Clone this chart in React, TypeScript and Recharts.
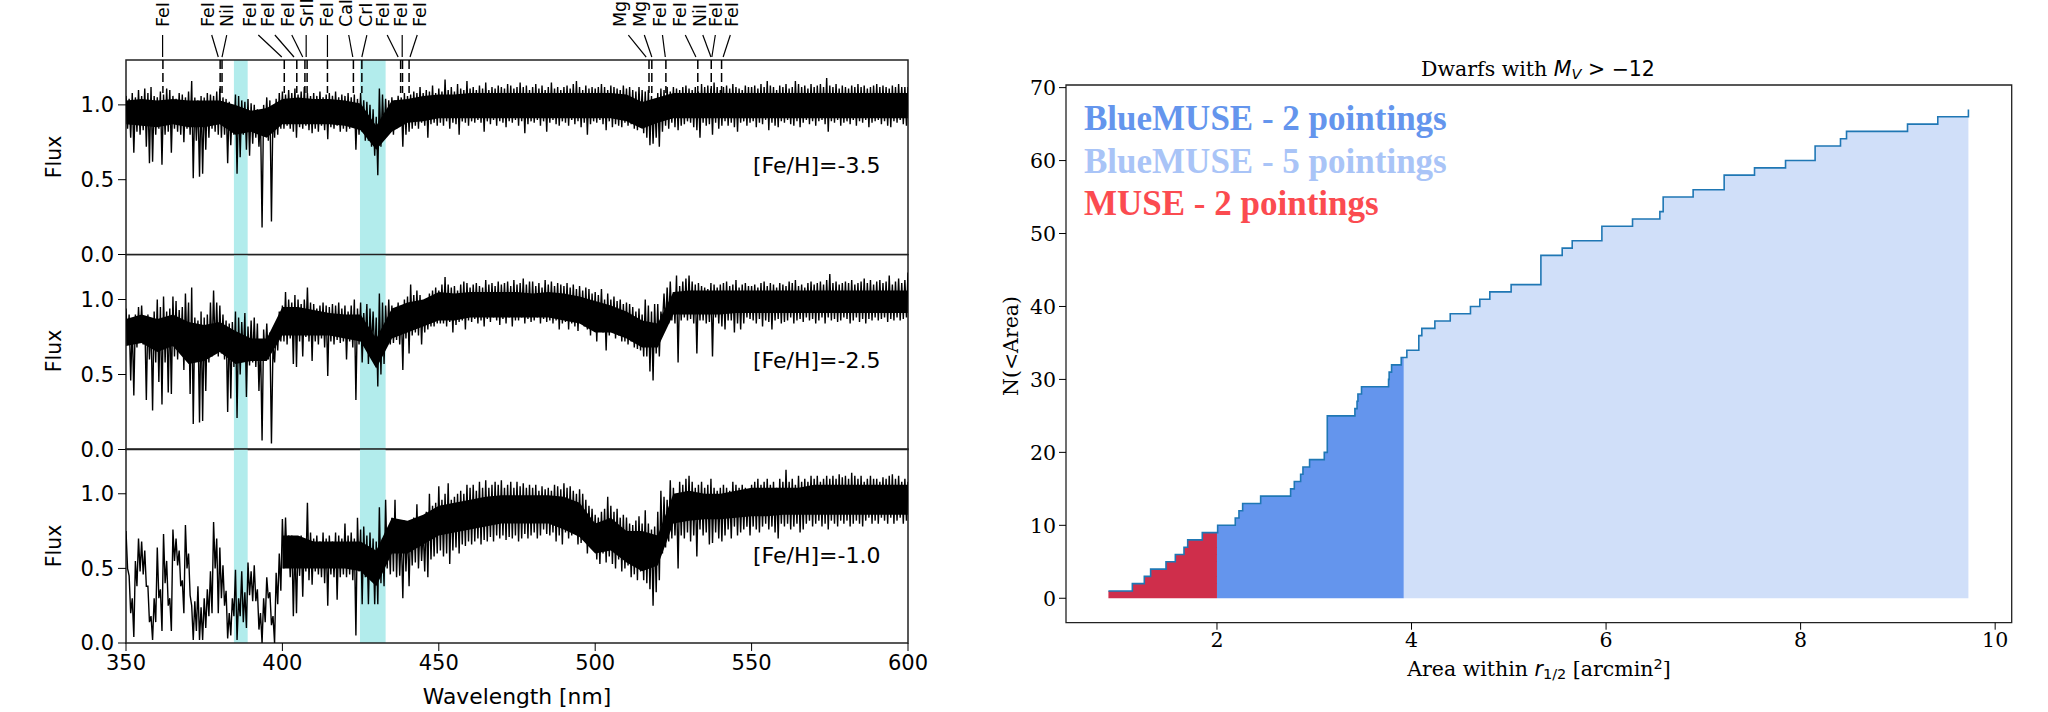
import {
  Area,
  ComposedChart,
  Line,
  ReferenceArea,
  ReferenceDot,
  ReferenceLine,
  XAxis,
  YAxis,
} from 'recharts';

// flux x 100, one value per nm from 350 to 600
const S1_HI = [
  106,104,108,105,110,106,111,108,112,106,
  105,109,107,111,110,106,104,108,107,105,
  109,116,105,103,106,105,108,107,106,109,
  111,105,104,102,99,107,106,103,102,104,
  101,100,97,92,100,105,103,99,104,108,
  109,107,110,108,111,107,109,112,108,106,
  108,106,109,105,107,108,106,109,105,107,
  106,108,105,107,104,108,103,102,100,97,
  92,111,107,104,103,105,103,106,105,108,
  106,107,109,108,112,108,110,109,113,108,
  111,109,117,110,112,109,114,111,110,116,
  111,112,110,113,111,115,110,112,111,113,
  112,111,114,113,111,112,115,112,113,110,
  112,114,111,113,110,112,115,111,112,110,
  112,113,111,114,116,112,110,113,111,112,
  111,112,114,112,110,113,112,111,110,113,
  111,112,110,109,112,110,109,110,106,104,
  108,111,110,112,109,112,111,110,112,113,
  111,110,112,109,114,112,113,111,115,112,
  110,112,113,111,114,112,111,110,113,112,
  112,113,111,114,112,116,113,112,110,113,
  112,114,111,112,116,114,112,113,111,114,
  112,113,114,112,118,113,112,114,111,113,
  112,111,113,112,114,112,113,111,112,113,
  114,112,113,112,111,113,112,114,112,112,
  112,
];
const S1_LO = [
  84,78,68,82,80,83,72,61,62,80,
  84,60,80,82,68,84,82,80,75,84,
  80,51,76,52,54,70,78,84,82,80,
  78,80,61,73,80,54,65,80,70,66,
  74,78,72,18,82,76,22,78,80,84,
  84,86,84,82,78,85,84,86,83,81,
  84,82,86,83,77,85,84,86,82,84,
  82,84,86,70,80,82,76,76,72,66,
  53,72,80,80,82,80,84,86,72,80,
  82,84,86,84,88,86,78,87,88,86,
  88,86,89,84,88,87,80,89,88,86,
  89,88,90,88,82,89,87,90,86,89,
  88,85,89,88,90,86,89,81,87,89,
  88,90,86,89,82,88,90,87,86,89,
  88,86,90,87,89,85,88,80,87,89,
  88,90,87,83,89,85,87,86,85,88,
  86,87,84,83,85,81,78,73,74,78,
  72,82,86,84,88,85,83,86,87,89,
  88,85,83,78,88,86,87,80,88,84,
  86,89,86,88,85,82,88,89,86,88,
  89,85,88,87,90,83,88,86,85,89,
  88,90,87,86,89,85,88,90,87,89,
  86,89,90,87,82,89,88,90,86,88,
  89,87,90,86,89,88,90,85,88,89,
  90,87,89,86,85,89,88,90,87,86,
  86,
];
const S2_HI = [
  94,90,84,90,95,96,88,90,85,92,
  100,95,102,92,94,102,99,93,95,104,
  98,108,88,86,92,88,90,98,106,98,
  96,90,86,84,85,92,88,85,91,82,
  86,88,84,72,80,84,78,70,80,92,
  96,105,100,98,103,100,97,100,108,98,
  97,94,96,98,96,95,97,96,98,94,
  96,92,96,100,94,98,91,97,94,92,
  88,104,98,96,100,96,94,98,94,100,
  102,110,103,106,103,98,100,104,106,108,
  106,110,115,110,108,109,106,110,112,111,
  108,110,111,109,108,113,110,111,109,112,
  110,111,112,109,113,110,111,114,110,112,
  112,109,111,108,113,110,112,109,111,110,
  109,111,108,110,107,109,106,108,107,104,
  105,103,107,100,104,100,102,99,100,97,
  98,97,95,92,94,90,100,96,92,97,
  97,92,104,108,112,105,116,109,112,114,
  116,112,110,111,109,108,107,111,110,108,
  110,111,112,109,110,113,108,110,111,109,
  109,110,108,111,112,109,111,110,108,111,
  110,109,112,111,113,109,110,108,111,112,
  110,111,112,110,113,117,111,112,110,111,
  112,111,113,110,111,112,114,111,113,110,
  112,113,111,112,116,110,112,114,111,113,
  118,
];
const S2_LO = [
  70,46,36,68,72,70,33,60,26,58,
  45,30,58,38,37,62,60,64,53,66,
  37,17,60,18,19,39,58,62,66,62,
  64,60,25,34,55,21,50,60,35,56,
  58,55,39,6,60,60,4,58,66,72,
  72,70,74,57,55,72,62,75,72,59,
  72,70,74,68,49,72,70,73,71,72,
  60,72,68,33,70,58,72,57,68,62,
  42,50,57,72,70,71,73,70,53,74,
  64,76,78,76,70,78,80,82,82,84,
  84,84,82,85,78,83,85,86,80,86,
  85,87,84,86,82,87,85,88,86,83,
  87,84,88,82,86,86,88,84,87,85,
  86,88,84,87,85,86,84,86,80,84,
  85,80,84,82,79,84,82,80,76,80,
  72,80,78,66,76,78,74,76,72,72,
  70,72,68,67,66,62,62,52,46,64,
  62,84,82,84,86,84,58,86,88,86,
  87,84,64,86,86,84,85,62,88,84,
  82,80,86,86,78,84,80,84,88,87,
  86,84,87,82,86,85,80,86,87,84,
  85,86,88,84,86,87,85,88,86,87,
  84,86,88,84,88,86,87,85,86,88,
  87,84,86,88,85,87,84,87,86,88,
  86,87,88,85,87,86,88,86,87,88,
  88,
];
const S3_HI = [
  75,45,30,55,70,68,62,38,18,30,
  64,36,73,55,30,76,70,62,42,79,
  60,25,28,38,24,30,36,48,81,70,
  64,52,35,20,30,49,30,48,34,54,
  48,52,36,20,30,44,34,18,47,60,
  83,84,72,72,68,70,72,70,94,74,
  70,72,68,74,70,72,68,74,72,70,
  80,72,74,70,84,76,78,72,74,70,
  68,91,70,96,78,84,96,80,74,82,
  76,80,84,93,80,76,88,100,92,94,
  105,96,100,107,96,98,100,102,100,106,
  104,106,102,108,104,109,104,106,108,106,
  109,104,106,108,104,108,105,107,104,106,
  104,106,102,105,103,104,102,106,105,103,
  107,104,105,102,100,103,100,96,92,90,
  86,84,88,90,98,92,88,90,84,86,
  84,80,79,82,85,80,89,80,76,78,
  88,102,98,96,109,104,100,108,106,110,
  112,108,104,106,108,104,106,110,104,102,
  104,106,104,102,108,106,104,106,104,102,
  106,108,110,106,108,110,106,108,104,110,
  108,116,108,110,106,112,108,110,108,112,
  110,112,108,110,112,110,112,110,113,111,
  112,110,114,112,110,112,108,110,112,110,
  110,108,111,110,112,113,110,112,108,110,
  108,
];
const S3_LO = [
  50,20,4,38,48,46,38,14,2,14,
  30,8,40,25,8,55,52,38,20,50,
  32,2,8,2,2,10,18,20,50,20,
  30,25,3,5,18,2,18,14,10,32,
  28,28,9,0,14,30,12,0,26,35,
  50,52,44,18,20,45,31,48,42,39,
  48,46,44,40,25,46,44,29,44,46,
  44,46,42,5,48,26,44,26,42,26,
  26,40,38,50,46,48,44,45,30,48,
  38,52,54,50,55,48,44,56,58,60,
  62,58,60,53,62,64,60,66,65,68,
  66,68,70,66,69,68,71,68,72,70,
  72,69,71,70,72,68,70,73,70,72,
  74,70,72,76,73,72,74,68,72,66,
  74,70,72,74,66,67,70,60,66,62,
  56,53,60,54,58,53,50,56,48,50,
  52,44,46,42,48,42,40,36,25,34,
  42,60,64,68,70,72,50,72,70,74,
  68,72,58,76,72,74,66,67,74,70,
  68,72,76,70,78,72,74,76,78,72,
  78,76,74,78,80,76,78,74,70,80,
  78,80,76,78,80,74,76,80,82,78,
  80,82,78,80,76,82,80,78,82,80,
  82,78,80,82,80,78,82,84,80,82,
  80,84,82,80,84,80,82,84,80,82,
  82,
];

// solid core of each spectrum, flux x 100, every 5 nm from 350 to 600
const S1_CORE_HI = [103,104,103,104,103,103,103,100,96,98,104,105,104,104,103,101,86,103,104,106,107,107,108,108,108,108,108,108,108,108,108,108,107,102,105,108,108,108,108,108,108,108,108,108,108,108,108,108,108,108,108];
const S1_CORE_LO = [87,86,85,87,85,85,87,80,82,78,87,87,87,87,86,83,70,82,88,89,91,91,91,91,91,91,91,91,91,91,91,91,89,84,88,91,91,91,91,91,91,91,91,91,91,91,91,91,91,91,91];
const S2_CORE_HI = [87,90,87,90,85,83,85,79,74,74,95,95,93,91,90,90,74,94,98,100,105,104,105,105,105,105,104,105,104,102,99,96,92,86,84,105,106,106,106,106,106,106,106,106,106,106,106,106,106,106,106];
const S2_CORE_LO = [69,71,65,69,57,59,65,57,59,59,76,76,76,76,74,72,54,74,78,82,86,86,88,88,88,88,88,88,86,84,78,78,74,68,68,90,90,90,90,91,91,91,91,91,91,91,91,91,91,91,91];
const S3_CORE_HI = [null,null,null,null,null,null,null,null,null,null,72,72,68,68,68,68,62,84,82,86,92,94,96,98,99,99,99,99,98,94,80,84,75,75,72,100,102,100,100,102,104,104,104,104,106,106,106,106,106,106,106];
const S3_CORE_LO = [null,null,null,null,null,null,null,null,null,null,50,50,50,50,50,48,38,60,60,66,72,74,76,78,80,80,80,80,76,71,60,62,54,48,52,80,82,83,83,84,85,85,86,86,86,86,86,86,86,86,86];

const WL_TICKS = [350, 400, 450, 500, 550, 600];
const FLUX_TICKS = [0, 0.5, 1];
const BANDS = [[384.5, 388.9], [424.8, 433]];

// line identifications on the top panel
const MARKER_WL = [361.8, 380.1, 380.7, 400.6, 404.6, 407.2, 407.9, 414.4, 422.7, 425.4, 437.8, 438.4, 440.5, 517.2, 518.1, 522.6, 532.8, 537.1, 540.4];
const ION_NAMES = ['FeI', 'FeI', 'NiI', 'FeI', 'FeI', 'FeI', 'SrII', 'FeI', 'CaI', 'CrI', 'FeI', 'FeI', 'FeI', 'MgI', 'MgI', 'FeI', 'FeI', 'NiI', 'FeI', 'FeI'];
const ION_LABEL_WL = [361.8, 376, 382.2, 389.5, 395.3, 401.6, 407.6, 414.2, 420.3, 426.6, 432.1, 437.9, 443.8, 507.9, 514.1, 520.7, 527.1, 533.2, 538.6, 543.7];
const LEADER_TOP_WL = [361.7, 377.4, 382.2, 392.3, 397.6, 403, 407.6, 414.4, 421.2, 427, 433.5, 438.3, 443.1, 510.6, 515.7, 521.5, 528.8, 534.4, 538.4, 543.2];
const LEADER_BOTTOM_WL = [361.7, 379.5, 380.7, 399.8, 403.7, 406.5, 407.6, 414.4, 422.5, 425.4, 437, 438.3, 440.8, 516.3, 518.1, 522.4, 532.2, 537, 537.3, 540.9];

// cumulative counts, right panel
const AREA_EDGES = [0.884, 1.13, 1.253, 1.318, 1.476, 1.572, 1.661, 1.699, 1.849, 2, 2.007, 2.188, 2.226, 2.264, 2.449, 2.757, 2.795, 2.86, 2.884, 2.952, 3.103, 3.134, 3.418, 3.44, 3.449, 3.486, 3.764, 3.77, 3.795, 3.894, 3.92, 3.952, 4.075, 4.106, 4.24, 4.398, 4.606, 4.702, 4.805, 5.024, 5.33, 5.549, 5.652, 5.957, 6.272, 6.553, 6.587, 6.895, 7.214, 7.526, 7.845, 8.149, 8.41, 8.472, 9.099, 9.41, 9.725];
const COUNTS = [1, 2, 3, 4, 5, 6, 7, 8, 9, 9, 10, 11, 12, 13, 14, 15, 16, 17, 18, 19, 20, 25, 26, 27, 28, 29, 30, 31, 32, 33, 33, 34, 36, 37, 38, 39, 40, 41, 42, 43, 47, 48, 49, 51, 52, 53, 55, 56, 58, 59, 60, 62, 63, 64, 65, 66, 67];
const MUSE_LIMIT = 2;
const BLUEMUSE2_LIMIT = 3.92;
const AREA_TICKS = [2, 4, 6, 8, 10];
const COUNT_TICKS = [0, 10, 20, 30, 40, 50, 60, 70];

const SANS = '"DejaVu Sans", sans-serif';
const SERIF = '"DejaVu Serif", serif';
const BOLD_SERIF = '"Liberation Serif", serif';

const spectrumRows = (hi: number[], lo: number[], coreHi: (number | null)[], coreLo: (number | null)[]) =>
  hi.flatMap((h, i) => {
    const c = i % 5 === 0 ? i / 5 : -1;
    const hasCore = c >= 0 && coreHi[c] != null;
    return [
      {
        wl: 350 + i,
        flux: h / 100,
        core: hasCore ? [(coreLo[c] as number) / 100, (coreHi[c] as number) / 100] : null,
      },
      { wl: 350.5 + i, flux: lo[i] / 100, core: null },
    ];
  });

const countRows = AREA_EDGES.map((x, i) => ({
  x,
  n: COUNTS[i],
  muse: x <= MUSE_LIMIT ? COUNTS[i] : null,
  blue2: x >= MUSE_LIMIT && x <= BLUEMUSE2_LIMIT ? COUNTS[i] : null,
  blue5: x >= BLUEMUSE2_LIMIT ? COUNTS[i] : null,
}));

const IonLabel = (name: string) => (props: any) => (
  <text
    transform={`translate(${props.cx + 6.5},${props.cy}) rotate(-90)`}
    fontFamily={SANS}
    fontSize={17.5}
    fill="#000"
  >
    {name}
  </text>
);

function Spectrum({ top, height, marginTop, marginBottom, hi, lo, coreHi, coreLo, showAxis, markers }: any) {
  return (
    <div style={{ position: 'absolute', left: 0, top }}>
      <ComposedChart
        width={1000}
        height={height}
        data={spectrumRows(hi, lo, coreHi, coreLo)}
        margin={{ left: 46, right: 92, top: marginTop, bottom: marginBottom }}
      >
        <XAxis
          dataKey="wl"
          type="number"
          domain={[350, 600]}
          ticks={WL_TICKS}
          interval={0}
          hide={!showAxis}
          height={showAxis ? 50 : 0}
          axisLine={false}
          tickSize={8}
          tickMargin={4}
          tick={{ fontSize: 21, fill: '#000', fontFamily: SANS }}
          tickLine={{ stroke: '#000' }}
          allowDataOverflow
        />
        <YAxis
          type="number"
          width={80}
          domain={[0, 1.3]}
          ticks={FLUX_TICKS}
          interval={0}
          axisLine={false}
          tickSize={8}
          tickMargin={4}
          tick={{ fontSize: 21, fill: '#000', fontFamily: SANS }}
          tickLine={{ stroke: '#000' }}
          tickFormatter={(v: number) => v.toFixed(1)}
          allowDataOverflow
        />
        {BANDS.map(([a, b]) => (
          <ReferenceArea key={a} x1={a} x2={b} y1={0} y2={1.3} fill="#b2ecec" fillOpacity={1} stroke="none" />
        ))}
        {markers &&
          MARKER_WL.map((w) => (
            <ReferenceLine
              key={w}
              segment={[{ x: w, y: 1.3 }, { x: w, y: 1.08 }]}
              stroke="#000"
              strokeWidth={1.5}
              strokeDasharray="9 4"
              ifOverflow="visible"
            />
          ))}
        <Area
          dataKey="core"
          connectNulls
          fill="#000"
          fillOpacity={1}
          stroke="none"
          dot={false}
          activeDot={false}
          isAnimationActive={false}
        />
        <Line
          dataKey="flux"
          stroke="#000"
          strokeWidth={1.4}
          dot={false}
          activeDot={false}
          isAnimationActive={false}
        />
        {markers &&
          ION_NAMES.map((name, i) => (
            <ReferenceLine
              key={`leader-${i}`}
              segment={[
                { x: LEADER_BOTTOM_WL[i], y: 1.32 },
                { x: LEADER_TOP_WL[i], y: 1.467 },
              ]}
              stroke="#000"
              strokeWidth={1.2}
              ifOverflow="visible"
            />
          ))}
        {markers &&
          ION_NAMES.map((name, i) => (
            <ReferenceDot
              key={`ion-${i}`}
              x={ION_LABEL_WL[i]}
              y={1.52}
              r={0}
              ifOverflow="visible"
              shape={IonLabel(name)}
            />
          ))}
        <ReferenceArea x1={350} x2={600} y1={0} y2={1.3} fill="none" stroke="#222" strokeWidth={1.5} />
      </ComposedChart>
    </div>
  );
}

export default function App() {
  return (
    <div style={{ position: 'absolute', left: 0, top: 0, width: 2048, height: 712, background: '#fff', overflow: 'hidden' }}>
      <Spectrum top={0} height={270} marginTop={60} marginBottom={15.5} hi={S1_HI} lo={S1_LO} coreHi={S1_CORE_HI} coreLo={S1_CORE_LO} markers />
      <Spectrum top={254} height={211} marginTop={0.5} marginBottom={15.5} hi={S2_HI} lo={S2_LO} coreHi={S2_CORE_HI} coreLo={S2_CORE_LO} />
      <Spectrum top={448} height={245} marginTop={1} marginBottom={0} hi={S3_HI} lo={S3_LO} coreHi={S3_CORE_HI} coreLo={S3_CORE_LO} showAxis />

      <div style={{ position: 'absolute', left: 900, top: 0 }}>
        <ComposedChart
          width={1148}
          height={712}
          data={countRows}
          margin={{ left: 106, right: 36.3, top: 85, bottom: 39.3 }}
        >
          <XAxis
            dataKey="x"
            type="number"
            domain={[0.448, 10.17]}
            ticks={AREA_TICKS}
            interval={0}
            height={50}
            axisLine={false}
            tickSize={7}
            tickMargin={3}
            tick={{ fontSize: 20.5, fill: '#000', fontFamily: SERIF }}
            tickLine={{ stroke: '#000' }}
            allowDataOverflow
          />
          <YAxis
            type="number"
            width={60}
            domain={[-3.35, 70.36]}
            ticks={COUNT_TICKS}
            interval={0}
            axisLine={false}
            tickSize={7}
            tickMargin={3}
            tick={{ fontSize: 20.5, fill: '#000', fontFamily: SERIF }}
            tickLine={{ stroke: '#000' }}
            allowDataOverflow
          />
          <Area dataKey="blue5" type="stepAfter" baseValue={0} fill="#d0dff9" fillOpacity={1} stroke="none" dot={false} activeDot={false} isAnimationActive={false} />
          <Area dataKey="blue2" type="stepAfter" baseValue={0} fill="#6495ed" fillOpacity={1} stroke="none" dot={false} activeDot={false} isAnimationActive={false} />
          <Area dataKey="muse" type="stepAfter" baseValue={0} fill="#cf2e4b" fillOpacity={1} stroke="none" dot={false} activeDot={false} isAnimationActive={false} />
          <Line dataKey="n" type="stepAfter" stroke="#1f77b4" strokeWidth={1.6} dot={false} activeDot={false} isAnimationActive={false} />
          <ReferenceArea x1={0.448} x2={10.17} y1={-3.35} y2={70.36} fill="none" stroke="#222" strokeWidth={1.3} />
        </ComposedChart>
      </div>

      <svg width={2048} height={712} style={{ position: 'absolute', left: 0, top: 0, pointerEvents: 'none' }}>
        <g fontFamily={SANS} fill="#000">
          <text transform="translate(61,157) rotate(-90)" fontSize={20.5} textAnchor="middle">Flux</text>
          <text transform="translate(61,351) rotate(-90)" fontSize={20.5} textAnchor="middle">Flux</text>
          <text transform="translate(61,546) rotate(-90)" fontSize={20.5} textAnchor="middle">Flux</text>
          <text x={753} y={173} fontSize={22}>[Fe/H]=-3.5</text>
          <text x={753} y={368} fontSize={22}>[Fe/H]=-2.5</text>
          <text x={753} y={562.5} fontSize={22}>[Fe/H]=-1.0</text>
          <text x={517} y={704} fontSize={21.8} textAnchor="middle">Wavelength [nm]</text>
        </g>
        <g fontFamily={SERIF} fill="#000" fontSize={20.5}>
          <text x={1538} y={76} textAnchor="middle">
            Dwarfs with{' '}
            <tspan fontFamily={SANS} fontStyle="italic">M</tspan>
            <tspan fontFamily={SANS} fontStyle="italic" fontSize={14.5} dy={3}>V</tspan>
            <tspan fontFamily={SANS} dy={-3}> {'>'} {'\u2212'}12</tspan>
          </text>
          <text x={1539} y={676} textAnchor="middle">
            Area within{' '}
            <tspan fontFamily={SANS} fontStyle="italic">r</tspan>
            <tspan fontFamily={SANS} fontSize={14.5} dy={3}>1/2</tspan>
            <tspan dy={-3}> [arcmin</tspan>
            <tspan fontFamily={SANS} fontSize={14.5} dy={-7}>2</tspan>
            <tspan dy={7}>]</tspan>
          </text>
          <text transform="translate(1018,346) rotate(-90)" textAnchor="middle">N({'<'}Area)</text>
        </g>
        <g fontFamily={BOLD_SERIF} fontWeight={700} fontSize={35}>
          <text x={1084} y={130} fill="#6495ed">BlueMUSE - 2 pointings</text>
          <text x={1084} y={173} fill="#a9c4f7">BlueMUSE - 5 pointings</text>
          <text x={1084} y={215} fill="#fb4b50">MUSE - 2 pointings</text>
        </g>
      </svg>
    </div>
  );
}
